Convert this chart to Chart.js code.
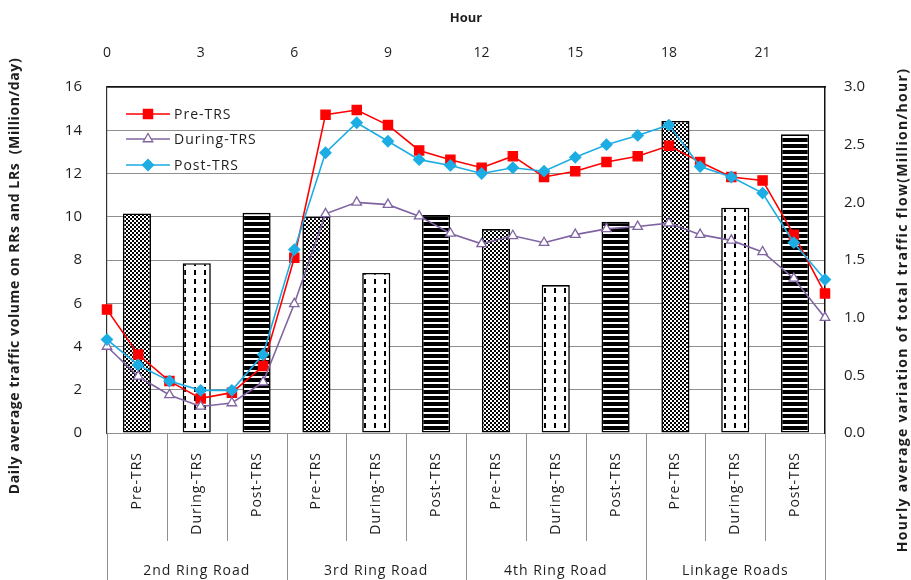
<!DOCTYPE html>
<html>
<head>
<meta charset="utf-8">
<script src="https://cdn.jsdelivr.net/npm/chart.js@4.4.1/dist/chart.umd.min.js"></script>
<style>
  html, body { margin: 0; padding: 0; background: #fff; }
  #wrap { width: 911px; height: 580px; }
</style>
</head>
<body>
<div id="wrap"><canvas id="chart" width="911" height="580"></canvas></div>
<script>
// Road groups and study periods for the daily volume bars
const roadGroups = ['2nd Ring Road', '3rd Ring Road', '4th Ring Road', 'Linkage Roads'];
const periods = ['Pre-TRS', 'During-TRS', 'Post-TRS'];

// Daily average traffic volume (million/day), one value per road group and period
const dailyVolume = [10.15, 7.85, 10.18, 10.0, 7.4, 10.08, 9.43, 6.84, 9.77, 14.43, 10.42, 13.81];

// Hour of day and hourly variation of total traffic flow (million/hour)
const hours = [0, 1, 2, 3, 4, 5, 6, 7, 8, 9, 10, 11, 12, 13, 14, 15, 16, 17, 18, 19, 20, 21, 22, 23];
const preHourly = [1.07, 0.68, 0.45, 0.30, 0.35, 0.58, 1.52, 2.76, 2.80, 2.67, 2.45, 2.37, 2.30, 2.40, 2.22, 2.27, 2.35, 2.40, 2.49, 2.35, 2.22, 2.19, 1.72, 1.21];
const duringHourly = [0.75, 0.49, 0.33, 0.23, 0.26, 0.44, 1.12, 1.90, 2.00, 1.98, 1.88, 1.73, 1.64, 1.71, 1.65, 1.72, 1.77, 1.79, 1.82, 1.72, 1.67, 1.57, 1.34, 1.00];
const postHourly = [0.81, 0.59, 0.45, 0.37, 0.37, 0.68, 1.59, 2.43, 2.69, 2.53, 2.37, 2.32, 2.25, 2.30, 2.27, 2.39, 2.50, 2.58, 2.67, 2.31, 2.22, 2.08, 1.65, 1.33];

// Axis ranges
const volumeAxis = { min: 0, max: 16, step: 2 };
const hourlyAxis = { min: 0, max: 3, step: 0.5 };
const hourAxis = { min: 0, max: 23, step: 3 };

const barLabels = [];
roadGroups.forEach(g => periods.forEach(p => barLabels.push(p)));

const FONT = "'Open Sans', 'DejaVu Sans', sans-serif";
const TICK_FONT = "'Liberation Sans Narrow', 'Open Sans', sans-serif";
const TEXT = '#1e1e1e';
const GRID = '#8f8f8f';

// ---- fill patterns for the three periods ----
function makeTile(w, h, paint) {
  const c = document.createElement('canvas');
  c.width = w; c.height = h;
  const g = c.getContext('2d');
  g.fillStyle = '#fff';
  g.fillRect(0, 0, w, h);
  g.fillStyle = '#000';
  paint(g);
  return g.createPattern(c, 'repeat');
}
const checkerFill = makeTile(4, 4, g => { g.fillRect(0, 0, 2, 2); g.fillRect(2, 2, 2, 2); });
const dashFill = makeTile(10, 9, g => { g.fillRect(4, 0, 2, 5); });
const stripeFill = makeTile(2, 6, g => { g.fillRect(0, 0, 2, 4); });
const periodFills = [checkerFill, dashFill, stripeFill];

const lineSeries = [
  { label: 'Pre-TRS', values: preHourly, color: '#ff0000', style: 'rect', radius: 6.5, fill: '#ff0000', order: 3 },
  { label: 'During-TRS', values: duringHourly, color: '#8064a2', style: 'triangle', radius: 5.5, fill: '#ffffff', order: 2 },
  { label: 'Post-TRS', values: postHourly, color: '#1cade4', style: 'rectRot', radius: 5.5, fill: '#1cade4', order: 1 }
];

const lineDatasets = lineSeries.map(s => ({
  type: 'line',
  label: s.label,
  data: hours.map((h, i) => ({ x: h, y: s.values[i] })),
  xAxisID: 'xh',
  yAxisID: 'y2',
  borderColor: s.color,
  borderWidth: 1.6,
  pointStyle: s.style,
  pointRadius: s.radius,
  pointBackgroundColor: s.fill,
  pointBorderColor: s.color,
  pointBorderWidth: 1.3,
  tension: 0,
  clip: false,
  order: s.order
}));

const barDataset = {
  type: 'bar',
  label: 'Daily volume',
  data: dailyVolume,
  xAxisID: 'x',
  yAxisID: 'y',
  backgroundColor: dailyVolume.map((v, i) => periodFills[i % 3]),
  borderColor: '#000',
  borderWidth: 1.6,
  borderSkipped: false,
  grouped: false,
  barPercentage: 0.47,
  categoryPercentage: 1.0,
  order: 4
};

function spacedText(ctx, text, x, y, spacing) {
  ctx.letterSpacing = spacing + 'px';
  ctx.fillText(text, x, y);
  ctx.letterSpacing = '0px';
}

// Category labels below the plot, grouped by road, plus axis titles and legend
const decorations = {
  id: 'decorations',
  afterDraw(chart) {
    const ctx = chart.ctx;
    const area = chart.chartArea;
    const xs = chart.scales.x;
    const n = barLabels.length;
    const w = (area.right - area.left) / n;
    ctx.save();

    // separators between categories and groups
    ctx.strokeStyle = GRID;
    ctx.lineWidth = 1;
    for (let i = 0; i <= n; i++) {
      const x = Math.round(area.left + i * w) + 0.5;
      const yEnd = (i % 3 === 0) ? chart.height : 541;
      ctx.beginPath();
      ctx.moveTo(x, area.bottom);
      ctx.lineTo(x, yEnd);
      ctx.stroke();
    }

    // rotated period labels
    ctx.fillStyle = TEXT;
    ctx.font = '14px ' + FONT;
    barLabels.forEach((lab, i) => {
      const cx = xs.getPixelForValue(i);
      ctx.save();
      ctx.translate(cx, area.bottom + 19);
      ctx.rotate(-Math.PI / 2);
      ctx.textAlign = 'right';
      ctx.textBaseline = 'middle';
      spacedText(ctx, lab, 0, 0, 1);
      ctx.restore();
    });

    // group labels
    ctx.font = '14px ' + FONT;
    ctx.textAlign = 'center';
    ctx.textBaseline = 'middle';
    roadGroups.forEach((g, gi) => {
      const cx = area.left + (gi * 3 + 1.5) * w;
      spacedText(ctx, g, cx, 571, 1);
    });

    // axis titles
    ctx.font = 'bold 13px ' + FONT;
    ctx.fillText('Hour', (area.left + area.right) / 2, 18);

    ctx.font = 'bold 14px ' + FONT;
    ctx.save();
    ctx.translate(15, 276);
    ctx.rotate(-Math.PI / 2);
    spacedText(ctx, 'Daily average traffic volume on RRs and LRs  (Million/day)', 0, 0, 0.6);
    ctx.restore();

    ctx.save();
    ctx.translate(903, 310);
    ctx.rotate(-Math.PI / 2);
    spacedText(ctx, 'Hourly average variation of total traffic flow(Million/hour)', 0, 0, 1.3);
    ctx.restore();

    // legend inside the plot
    const rows = [114, 139, 165];
    ctx.font = '14px ' + FONT;
    ctx.textAlign = 'left';
    lineDatasets.forEach((ds, k) => {
      const y = rows[k];
      ctx.strokeStyle = ds.borderColor;
      ctx.lineWidth = ds.borderWidth;
      ctx.beginPath();
      ctx.moveTo(126, y);
      ctx.lineTo(170, y);
      ctx.stroke();
      ctx.fillStyle = ds.pointBackgroundColor;
      ctx.strokeStyle = ds.pointBorderColor;
      ctx.lineWidth = ds.pointBorderWidth;
      Chart.helpers.drawPoint(ctx, {
        pointStyle: ds.pointStyle,
        radius: ds.pointRadius,
        borderWidth: ds.pointBorderWidth,
        rotation: 0
      }, 148, y);
      ctx.fillStyle = TEXT;
      spacedText(ctx, ds.label, 174, y + 1, 1);
    });
    ctx.restore();
  }
};

new Chart(document.getElementById('chart'), {
  type: 'bar',
  data: {
    labels: barLabels,
    datasets: [...lineDatasets, barDataset]
  },
  options: {
    responsive: false,
    animation: false,
    layout: { padding: 0 },
    font: { family: FONT },
    plugins: {
      legend: { display: false },
      tooltip: { enabled: false }
    },
    scales: {
      x: {
        type: 'category',
        position: 'bottom',
        offset: true,
        grid: { display: false },
        border: { display: true, color: GRID, width: 1 },
        ticks: { display: false },
        afterFit(scale) { scale.height = 147; }
      },
      xh: {
        type: 'linear',
        position: 'top',
        offset: false,
        min: hourAxis.min,
        max: hourAxis.max,
        grid: { display: false, drawTicks: false, offset: false },
        border: { display: true, color: '#111', width: 1.5 },
        ticks: {
          stepSize: hourAxis.step,
          includeBounds: false,
          padding: 26,
          color: TEXT,
          font: { family: TICK_FONT, size: 14 }
        },
        afterFit(scale) { scale.height = 87; }
      },
      y: {
        type: 'linear',
        position: 'left',
        min: volumeAxis.min,
        max: volumeAxis.max,
        grid: { color: GRID, lineWidth: 1, drawTicks: false },
        border: { display: true, color: '#333', width: 1.2 },
        ticks: {
          stepSize: volumeAxis.step,
          padding: 25,
          color: TEXT,
          font: { family: TICK_FONT, size: 15 }
        },
        afterFit(scale) { scale.width = 107; }
      },
      y2: {
        type: 'linear',
        position: 'right',
        min: hourlyAxis.min,
        max: hourlyAxis.max,
        grid: { display: false, drawTicks: false },
        border: { display: true, color: '#111', width: 1.5 },
        ticks: {
          stepSize: hourlyAxis.step,
          padding: 19,
          color: TEXT,
          font: { family: TICK_FONT, size: 15 },
          callback: v => Number(v).toFixed(1)
        },
        afterFit(scale) { scale.width = 86; }
      }
    }
  },
  plugins: [decorations]
});
</script>
</body>
</html>
